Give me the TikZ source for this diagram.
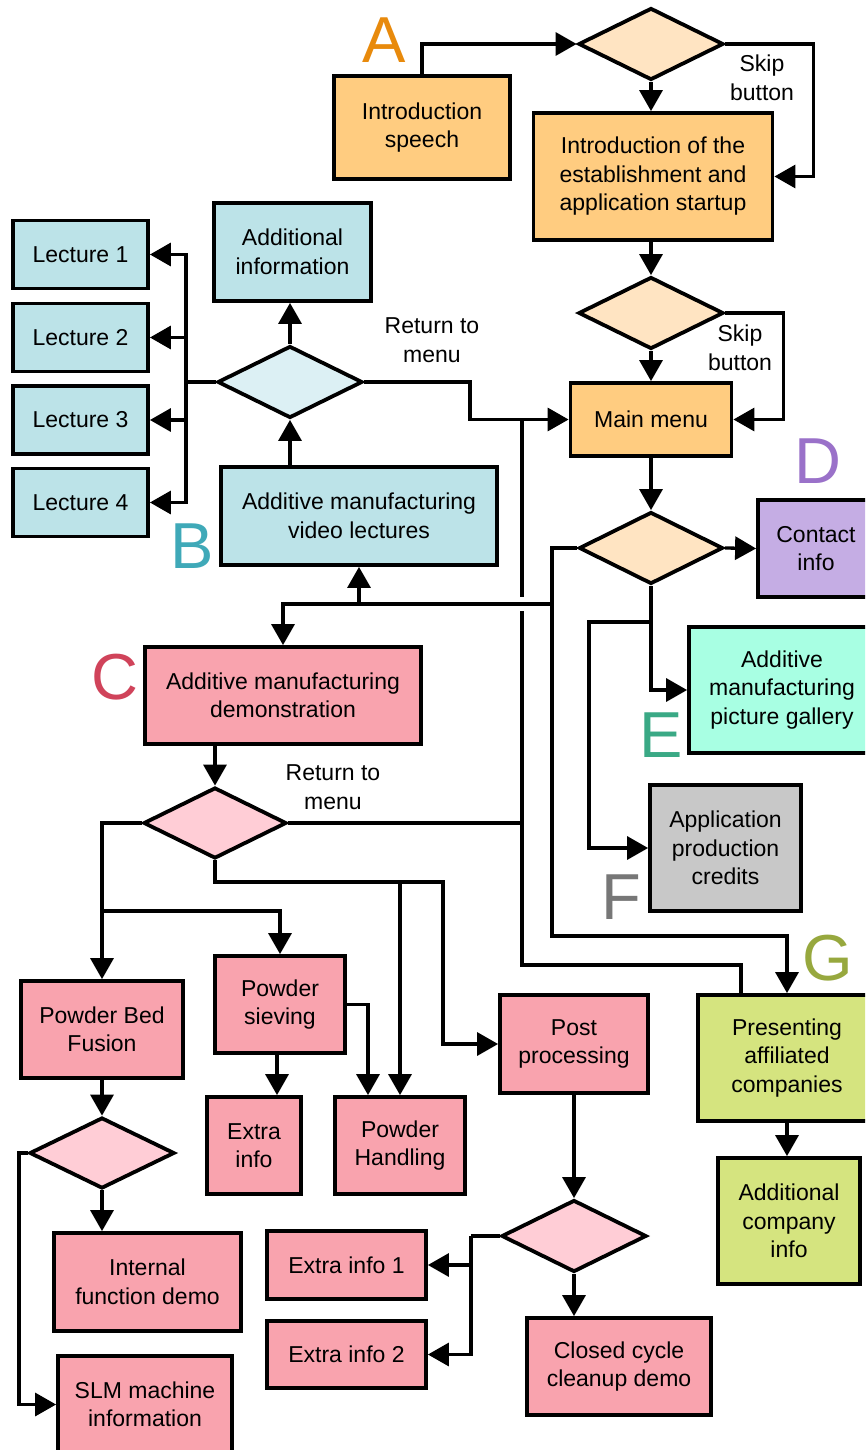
\documentclass[tikz,border=0pt]{standalone}
\usepackage{fontspec}
\setmainfont{Liberation Sans}
\usetikzlibrary{shapes.geometric,arrows.meta,calc}
\definecolor{orbox}{HTML}{FFCC80}
\definecolor{ordia}{HTML}{FFE4C2}
\definecolor{blbox}{HTML}{BCE3E8}
\definecolor{bldia}{HTML}{DCF0F4}
\definecolor{pkbox}{HTML}{F9A3AE}
\definecolor{pkdia}{HTML}{FFCDD6}
\definecolor{pubox}{HTML}{C5ADE4}
\definecolor{aqbox}{HTML}{A8FFE3}
\definecolor{grbox}{HTML}{C8C8C8}
\definecolor{gnbox}{HTML}{D5E47F}
\definecolor{cA}{HTML}{E88A0C}
\definecolor{cB}{HTML}{3FA9B8}
\definecolor{cC}{HTML}{D0435A}
\definecolor{cD}{HTML}{9A71C9}
\definecolor{cE}{HTML}{3AA985}
\definecolor{cF}{HTML}{777777}
\definecolor{cG}{HTML}{97A83E}
\begin{document}
\begin{tikzpicture}[x=1pt,y=-1pt,
  box/.style={draw=black,line width=3.8pt,rectangle,align=center,inner sep=0pt,font=\fontsize{23}{28.5}\selectfont},
  dia/.style={draw=black,line width=3.8pt,diamond,inner sep=0pt,minimum width=145pt,minimum height=72pt},
  conn/.style={line width=3.3pt,-{Triangle[length=21pt,width=23pt]}},
  plain/.style={line width=3.3pt},
  lbl/.style={font=\fontsize{23}{28.5}\selectfont,align=center,inner sep=0pt},
  big/.style={font=\fontsize{65}{65}\selectfont,inner sep=0pt}]
\clip (0,0) rectangle (865,1450);
\fill[white] (0,0) rectangle (865,1450);

% ---- section A ----
\node[box,fill=orbox,minimum width=176pt,minimum height=103pt] (intro) at (422,127.5) {Introduction\\speech};
\node[dia,fill=ordia] (d1) at (651,44) {};
\node[box,fill=orbox,minimum width=239pt,minimum height=127pt] (est) at (653,176.5) {Introduction of the\\establishment and\\application startup};
\node[dia,fill=ordia] (d2) at (651,313) {};
\node[box,fill=orbox,minimum width=161pt,minimum height=73pt] (main) at (651,419.5) {Main menu};
\node[dia,fill=ordia,minimum width=144pt] (d3) at (651,548) {};

% ---- right column ----
\node[box,fill=pubox,minimum width=116pt,minimum height=97pt] (contact) at (816,548.5) {Contact\\info};
\node[box,fill=aqbox,minimum width=186pt,minimum height=126pt] (gal) at (782,690) {Additive\\manufacturing\\picture gallery};
\node[box,fill=grbox,minimum width=151pt,minimum height=126pt] (cred) at (725.5,848) {Application\\production\\credits};
\node[box,fill=gnbox,minimum width=178pt,minimum height=126pt] (pres) at (787,1058) {Presenting\\affiliated\\companies};
\node[box,fill=gnbox,minimum width=142pt,minimum height=126pt] (aci) at (789,1221) {Additional\\company\\info};

% ---- section B ----
\node[box,fill=blbox,minimum width=157pt,minimum height=98pt] (addinfo) at (292.5,252) {Additional\\information};
\node[dia,fill=bldia] (dB) at (290,382) {};
\node[box,fill=blbox,minimum width=276pt,minimum height=98pt] (video) at (359,516) {Additive manufacturing\\video lectures};
\node[box,fill=blbox,minimum width=135pt,minimum height=68pt] (lec1) at (80.5,254.5) {Lecture 1};
\node[box,fill=blbox,minimum width=135pt,minimum height=68pt] (lec2) at (80.5,337.5) {Lecture 2};
\node[box,fill=blbox,minimum width=135pt,minimum height=68pt] (lec3) at (80.5,420) {Lecture 3};
\node[box,fill=blbox,minimum width=135pt,minimum height=68pt] (lec4) at (80.5,502.5) {Lecture 4};

% ---- section C ----
\node[box,fill=pkbox,minimum width=276pt,minimum height=97pt] (cdemo) at (283,695.5) {Additive manufacturing\\demonstration};
\node[dia,fill=pkdia,minimum width=143pt,minimum height=71pt] (dC) at (215,823) {};
\node[box,fill=pkbox,minimum width=162pt,minimum height=97pt] (pbf) at (102,1029.5) {Powder Bed\\Fusion};
\node[dia,fill=pkdia,minimum height=71pt] (dP) at (102,1153) {};
\node[box,fill=pkbox,minimum width=187pt,minimum height=98pt] (ifd) at (147.5,1282) {Internal\\function demo};
\node[box,fill=pkbox,minimum width=174pt,minimum height=97pt] (slm) at (145,1404.5) {SLM machine\\information};
\node[box,fill=pkbox,minimum width=130pt,minimum height=97pt] (siev) at (280,1004.5) {Powder\\sieving};
\node[box,fill=pkbox,minimum width=94pt,minimum height=97pt] (extra) at (254,1145.5) {Extra\\info};
\node[box,fill=pkbox,minimum width=130pt,minimum height=97pt] (ph) at (400,1145.5) {Powder\\Handling};
\node[box,fill=pkbox,minimum width=148pt,minimum height=98pt] (pp) at (574,1044) {Post\\processing};
\node[dia,fill=pkdia] (dPP) at (574,1236) {};
\node[box,fill=pkbox,minimum width=159pt,minimum height=68pt] (ex1) at (346.5,1265) {Extra info 1};
\node[box,fill=pkbox,minimum width=159pt,minimum height=67pt] (ex2) at (346.5,1354.5) {Extra info 2};
\node[box,fill=pkbox,minimum width=184pt,minimum height=97pt] (cc) at (619,1366.5) {Closed cycle\\cleanup demo};

% ---- letters ----
\node[big,text=cA] (lA) at (384,40) {A};
\node[big,text=cB] (lB) at (192,546) {B};
\node[big,text=cC] (lC) at (115,677) {C};
\node[big,text=cD] (lD) at (818,461) {D};
\node[big,text=cE] (lE) at (661,735) {E};
\node[big,text=cF] (lF) at (621,897) {F};
\node[big,text=cG] (lG) at (828,958) {G};

% ---- edge labels ----
\node[lbl] (skip1) at (762,78) {Skip\\button};
\node[lbl] (skip2) at (740,348) {Skip\\button};
\node[lbl] (ret1) at (432,340) {Return to\\menu};
\node[lbl] (ret2) at (333,787) {Return to\\menu};

% ---- connectors: top ----
\draw[conn] (intro.north) |- (d1.west);
\draw[conn] (d1.east) -- ++(88,0) |- (est.east);
\draw[conn] (d1.south) -- (d1.south |- est.north);
\draw[conn] (d2.north |- est.south) -- (d2.north);
\draw[conn] (d2.east) -- ++(58,0) |- (main.east);
\draw[conn] (d2.south) -- (main.north);
\draw[conn] (main.south) -- (d3.north);
\draw[conn] (d3.east) -- (contact.west);
\draw[conn] (d3.south) |- (gal.west);
\coordinate (k1) at (651,622);
\draw[conn] (k1) -- (589,622) |- (cred.west);
\draw[conn] (d3.west) -- (552,548) -- (552,936) -| (pres.north);
\coordinate (k2) at (552,604);
\draw[conn] (k2) -- (283,604) -- (cdemo.north);
\coordinate (k3) at (359,604);
\draw[conn] (k3) -- (video.south);

% ---- return to menu ----
\draw[conn] (dB.east) -- (470,382) |- (main.west);
\coordinate (r1) at (522,823);
\draw[plain] (dC.east) -- (r1);
\draw[plain] (522,419.5) -- (522,597);
\draw[plain] (522,611) -- (522,965) -| ([xshift=-46pt]pres.north);

% ---- section B connectors ----
\coordinate (b1) at (186,382);
\draw[plain] (dB.west) -- (b1);
\draw[conn] (b1) |- (lec1.east);
\draw[conn] (b1) |- (lec2.east);
\draw[conn] (b1) |- (lec3.east);
\draw[conn] (b1) |- (lec4.east);
\draw[conn] (dB.south |- video.north) -- (dB.south);
\draw[conn] (dB.north) -- (dB.north |- addinfo.south);

% ---- section C connectors ----
\draw[conn] (dC.north |- cdemo.south) -- (dC.north);
\draw[conn] (dC.west) -| (pbf.north);
\coordinate (c1) at (102,911);
\draw[conn] (c1) -| (siev.north);
\draw[conn] (dC.south) -- (215,882) -- (443,882) |- (pp.west);
\coordinate (c2) at (400,882);
\draw[conn] (c2) -- (ph.north);
\draw[conn] (siev.east) -| ([xshift=-32pt]ph.north);
\draw[conn] ([xshift=-3pt]siev.south) -- ([xshift=23pt]extra.north);
\draw[conn] (pbf.south) -- (dP.north);
\draw[conn] (dP.south) -- (dP.south |- ifd.north);
\draw[conn] (dP.west) -- (19,1153) |- (slm.west);
\draw[conn] (pp.south) -- (dPP.north);
\draw[conn] (dPP.south) -- (dPP.south |- cc.north);
\coordinate (c3) at (471,1236);
\draw[plain] (dPP.west) -- (c3);
\draw[conn] (c3) |- (ex1.east);
\draw[conn] (c3) |- (ex2.east);
\draw[conn] (pres.south) -- (pres.south |- aci.north);
\end{tikzpicture}
\end{document}
